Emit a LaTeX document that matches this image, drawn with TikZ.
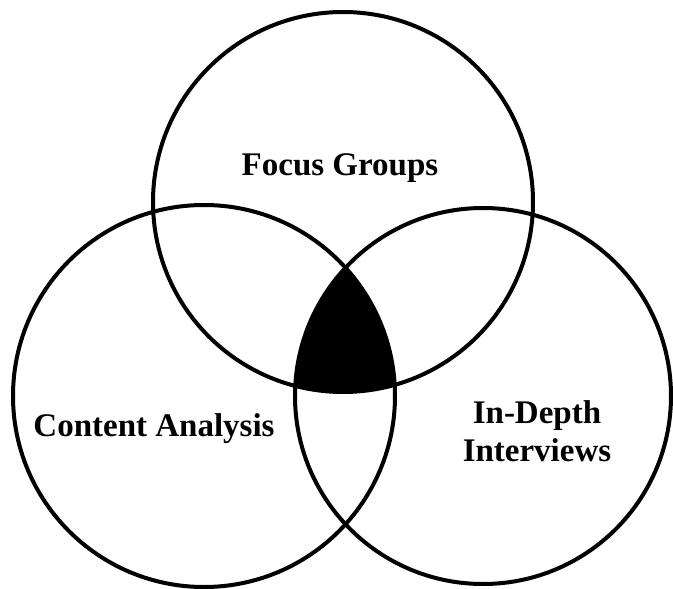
\documentclass[tikz,border=0pt]{standalone}
\usepackage{fontspec}
\setmainfont{Liberation Serif}
\begin{document}
\begin{tikzpicture}[x=1pt,y=-1pt,
  ring/.style={draw=black,line width=4pt},
  lbl/.style={font=\fontsize{33}{38}\selectfont\bfseries,inner sep=0pt,align=center}]
\useasboundingbox (0,0) rectangle (673,589);
% black intersection of all three circles
\begin{scope}
  \clip (343,202) circle (190);
  \clip (204,396) circle (191);
  \fill[black] (483,396) circle (188);
\end{scope}
\path[ring] (343,202) circle (190);
\path[ring] (204,396) circle (191);
\path[ring] (483,396) circle (188);
\node[lbl,anchor=base] (fg) at (340,175) {Focus Groups};
\node[lbl,anchor=base] (ca) at (154,436) {Content Analysis};
\node[lbl] (idi) at (537,431) {In-Depth\\Interviews};
\end{tikzpicture}
\end{document}
